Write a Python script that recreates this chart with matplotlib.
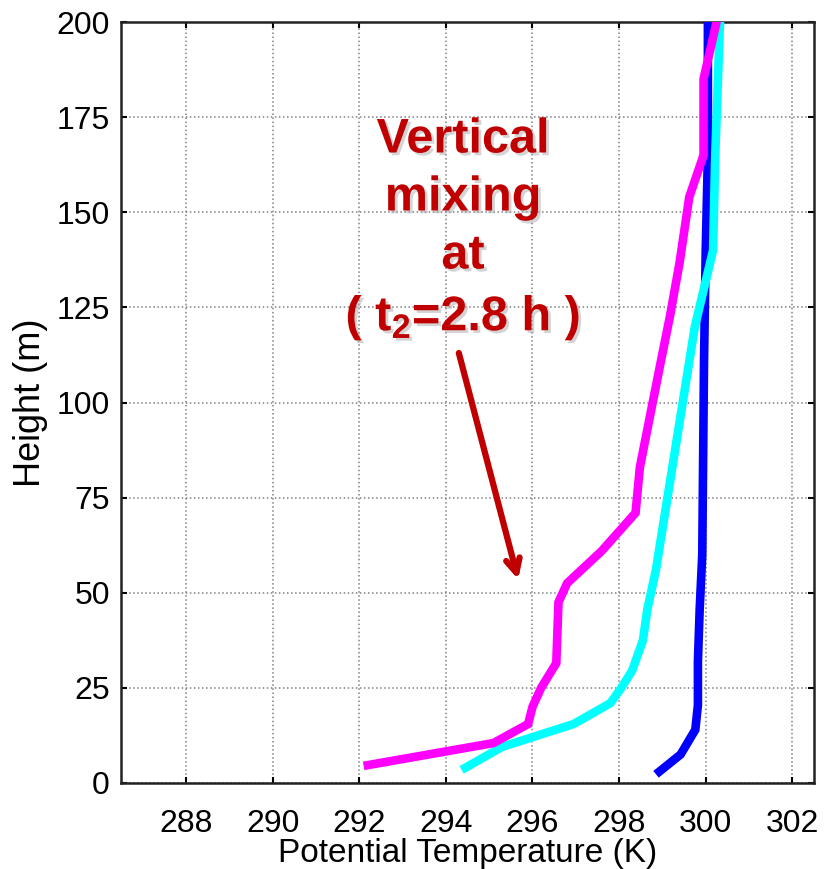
import matplotlib
matplotlib.use("Agg")
import matplotlib.pyplot as plt
import matplotlib.patheffects as pe

plt.rcParams['font.family'] = ['Liberation Sans', 'DejaVu Sans']
plt.rcParams['mathtext.fontset'] = 'custom'
plt.rcParams['mathtext.rm'] = 'Liberation Sans:bold'
plt.rcParams['mathtext.default'] = 'rm'

# Potential temperature profiles (K) against height (m)
blue_theta = [298.93, 299.42, 299.76, 299.82, 299.82, 299.86, 299.92, 299.96, 300.0, 300.05, 300.05]
blue_height = [3, 7.5, 14, 20.5, 32, 45.5, 60, 110, 140, 165, 200]

cyan_theta = [294.45, 295.3, 296.95, 297.8, 298.05, 298.3, 298.55, 298.65, 298.85, 299.75, 300.17, 300.22, 300.33]
cyan_height = [4, 9.5, 15.5, 21, 25, 29.5, 37.5, 45.5, 56, 120, 140, 165, 200]

magenta_theta = [292.2, 295.1, 295.9, 296.0, 296.2, 296.55, 296.6, 296.8, 297.6, 298.38,
                 298.48, 298.95, 299.18, 299.4, 299.62, 299.95, 299.95, 300.25]
magenta_height = [4.7, 10.5, 15.5, 20, 25, 31.5, 47.5, 52.5, 61, 71,
                  83, 110, 123, 137, 154, 165, 185, 200]

x_ticks = [288, 290, 292, 294, 296, 298, 300, 302]
y_ticks = [0, 25, 50, 75, 100, 125, 150, 175, 200]

fig = plt.figure(figsize=(8.24, 8.69), dpi=100)
ax = fig.add_axes([121 / 824, 86 / 869, 693 / 824, 761 / 869])

ax.plot(blue_theta, blue_height, color='#0000FF', lw=6.2, solid_joinstyle='miter', zorder=3)
ax.plot(cyan_theta, cyan_height, color='#00FFFF', lw=6.2, solid_joinstyle='miter', zorder=3)
ax.plot(magenta_theta, magenta_height, color='#FF00FF', lw=6.2, solid_joinstyle='miter', zorder=3)

ax.set_xlim(286.5, 302.5)
ax.set_ylim(0, 200)
ax.set_xticks(x_ticks)
ax.set_yticks(y_ticks)
ax.grid(True, linestyle=':', color='#808080', lw=1.1)
ax.set_axisbelow(True)
ax.tick_params(direction='in', top=True, right=True, length=4, width=1.5, labelsize=23)
ax.tick_params(axis='x', pad=19)
ax.tick_params(axis='y', pad=8)
for s in ax.spines.values():
    s.set_linewidth(1.8)
    s.set_color('#222222')

ax.set_xlabel('Potential Temperature (K)', fontsize=24, labelpad=-1)
ax.set_ylabel('Height (m)', fontsize=26, labelpad=6)

shadow = [pe.SimplePatchShadow(offset=(2, -2), shadow_rgbFace='#aaaaaa', alpha=0.5), pe.Normal()]
red = '#C00000'
lines = ['Vertical', 'mixing', 'at', '( t$_2$=2.8 h )']
ys = [140, 198, 256, 318]
for txt, yp in zip(lines, ys):
    fig.text(463 / 824, 1 - yp / 869, txt, ha='center', va='center', fontsize=35,
             fontweight='bold', color=red, path_effects=shadow)

ax.annotate('', xy=(295.67, 53.5), xytext=(294.3, 113),
            arrowprops=dict(arrowstyle='->,head_length=1.0,head_width=0.5',
                            color=red, lw=4.5, shrinkA=0, shrinkB=0))

fig.savefig('out.png', dpi=100)
